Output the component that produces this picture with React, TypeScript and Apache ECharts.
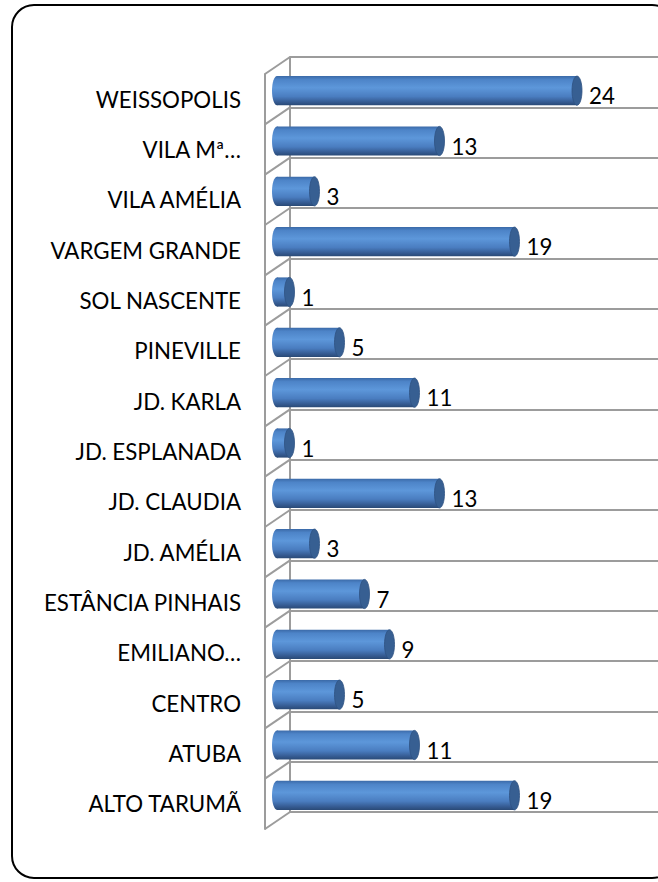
import React, { useEffect, useRef } from 'react';
import * as echarts from 'echarts';

// Data (bottom to top, as in the source chart)
const categories: string[] = [
  'ALTO TARUMÃ',
  'ATUBA',
  'CENTRO',
  'EMILIANO…',
  'ESTÂNCIA PINHAIS',
  'JD. AMÉLIA',
  'JD. CLAUDIA',
  'JD. ESPLANADA',
  'JD. KARLA',
  'PINEVILLE',
  'SOL NASCENTE',
  'VARGEM GRANDE',
  'VILA AMÉLIA',
  'VILA Mª…',
  'WEISSOPOLIS',
];
const values: number[] = [19, 11, 5, 9, 7, 3, 13, 1, 11, 5, 1, 19, 3, 13, 24];
const axisMax = 30;

const FONT = 'Lato, "Noto Sans", sans-serif';
const WEIGHT = 400;

function fitFontSize(text: string, target: number): number {
  try {
    const ctx = document.createElement('canvas').getContext('2d');
    if (!ctx) return 24;
    ctx.font = `${WEIGHT} 100px ${FONT}`;
    const w = ctx.measureText(text).width;
    if (!w) return 24;
    return Math.round((100 * target) / w * 10) / 10;
  } catch (e) {
    return 24;
  }
}

export default function App() {
  const ref = useRef<HTMLDivElement>(null);

  useEffect(() => {
    if (!ref.current) return;
    document.body.style.margin = '0';
    const chart = echarts.init(ref.current, undefined, { renderer: 'svg' });
    const fs = fitFontSize('ESTÂNCIA PINHAIS', 198);
    const gridColor = '#9c9c9c';
    const depthX = 25;
    const depthY = 17;

    const barGrad = () =>
      new echarts.graphic.LinearGradient(0, 0, 0, 1, [
        { offset: 0, color: '#3b6aa8' },
        { offset: 0.12, color: '#4d84c8' },
        { offset: 0.4, color: '#5d97da' },
        { offset: 0.7, color: '#4a7dc0' },
        { offset: 0.9, color: '#34598f' },
        { offset: 1, color: '#2a4a76' },
      ]);

    const boundaryData: number[][] = [];
    for (let k = 0; k < categories.length; k++) boundaryData.push([k, 1]);
    boundaryData.push([categories.length - 1, -1]);

    const option: any = {
      animation: false,
      backgroundColor: '#ffffff',
      graphic: [
        {
          type: 'rect',
          shape: { x: 12, y: 5, width: 662, height: 873, r: 22 },
          style: { fill: 'none', stroke: '#000000', lineWidth: 2 },
          z: 100,
          silent: true,
        },
      ],
      grid: [
        // back wall
        { left: 290, top: 57, height: 755, right: -60 },
        // front edge (labels)
        { left: 265, top: 74, height: 755, width: 10 },
        // bars (mid depth)
        { left: 277, top: 65.5, height: 755, width: 375 },
      ],
      xAxis: [
        { gridIndex: 0, type: 'value', min: 0, max: axisMax, show: false },
        { gridIndex: 1, type: 'value', min: 0, max: 1, show: false },
        { gridIndex: 2, type: 'value', min: 0, max: axisMax, show: false },
      ],
      yAxis: [
        {
          gridIndex: 0,
          type: 'category',
          data: categories,
          axisLine: { show: true, lineStyle: { color: gridColor, width: 2 } },
          axisTick: { show: false },
          axisLabel: { show: false },
          splitLine: { show: true, interval: 0, lineStyle: { color: gridColor, width: 2 } },
        },
        {
          gridIndex: 1,
          type: 'category',
          data: categories,
          axisLine: { show: true, lineStyle: { color: gridColor, width: 2 } },
          axisTick: { show: false },
          splitLine: { show: false },
          axisLabel: {
            show: true,
            interval: 0,
            margin: 24,
            color: '#000000',
            fontFamily: FONT,
            fontWeight: WEIGHT,
            fontSize: fs,
            padding: [6, 0, 0, 0],
          },
        },
        {
          gridIndex: 2,
          type: 'category',
          data: categories,
          show: false,
        },
      ],
      series: [
        {
          type: 'custom',
          name: 'depth',
          xAxisIndex: 0,
          yAxisIndex: 0,
          clip: false,
          silent: true,
          z: 1,
          data: boundaryData,
          encode: { y: 0 },
          renderItem: (params: any, api: any) => {
            const idx = api.value(0);
            const side = api.value(1);
            const c = api.coord([0, idx]);
            const band = api.size([0, 1])[1];
            const y = c[1] + (side * band) / 2;
            return {
              type: 'line',
              shape: { x1: c[0], y1: y, x2: c[0] - depthX, y2: y + depthY },
              style: { stroke: gridColor, lineWidth: 2 },
            };
          },
        },
        {
          type: 'custom',
          name: 'Bairros',
          xAxisIndex: 2,
          yAxisIndex: 2,
          clip: false,
          z: 5,
          data: values.map((v, i) => [i, v]),
          encode: { x: 1, y: 0 },
          renderItem: (params: any, api: any) => {
            const idx = api.value(0);
            const v = api.value(1);
            const s = api.coord([0, idx]);
            const e = api.coord([v, idx]);
            const band = api.size([0, 1])[1];
            const h = band * 0.58;
            const rx = 5;
            const top = s[1] - h / 2;
            return {
              type: 'group',
              children: [
                {
                  type: 'ellipse',
                  shape: { cx: s[0], cy: s[1], rx, ry: h / 2 },
                  style: { fill: barGrad() },
                },
                {
                  type: 'rect',
                  shape: { x: s[0], y: top, width: e[0] - s[0], height: h },
                  style: { fill: barGrad() },
                },
                {
                  type: 'ellipse',
                  shape: { cx: e[0], cy: e[1], rx, ry: h / 2 },
                  style: { fill: '#375f92', stroke: '#2f5282', lineWidth: 0.8 },
                },
                {
                  type: 'text',
                  x: e[0] + rx + 7,
                  y: e[1] + 5,
                  style: {
                    text: String(v),
                    fill: '#000000',
                    fontFamily: FONT,
                    fontWeight: WEIGHT,
                    fontSize: fs,
                    align: 'left',
                    verticalAlign: 'middle',
                  },
                },
              ],
            };
          },
        },
      ],
    };

    chart.setOption(option);
    return () => {
      chart.dispose();
    };
  }, []);

  return (
    <div
      ref={ref}
      style={{ position: 'absolute', left: 0, top: 0, width: 658, height: 882, background: '#ffffff' }}
    />
  );
}
